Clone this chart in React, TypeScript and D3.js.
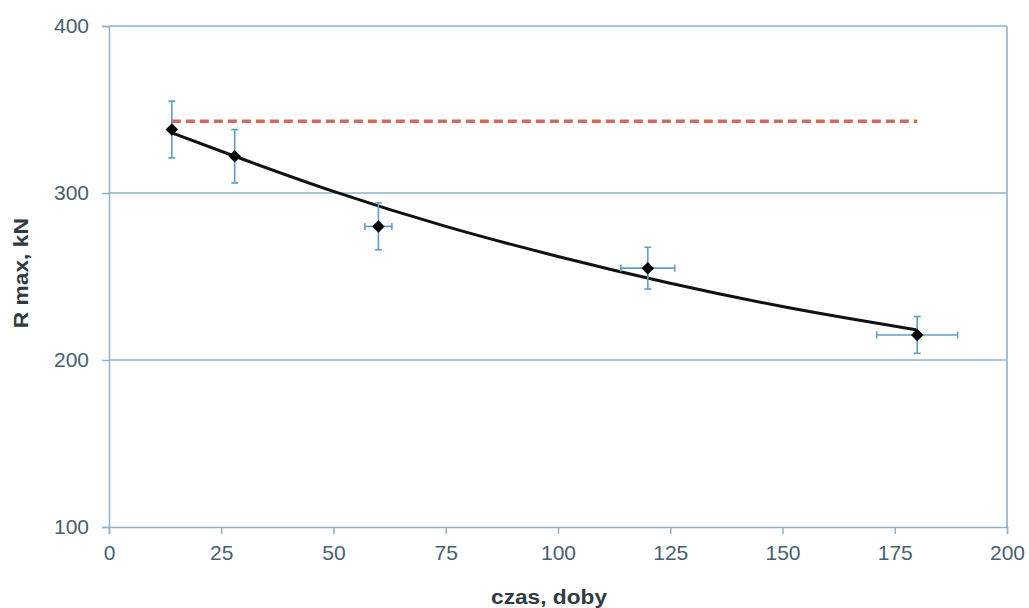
import React, { useEffect, useRef } from 'react'
import * as d3 from 'd3'

// measured points (time in days vs max load)
const days = [14, 28, 60, 120, 180]
const rmax = [338, 322, 280, 255, 215]
const rmaxErr = [17, 16, 14, 12.5, 11]
const daysErr = [0, 0, 3, 6, 9]

// trend curve
const fitDays = [14, 28, 50, 75, 100, 125, 150, 180]
const fitR = [336, 322, 301, 280, 262, 246, 232, 218]

// reference level (dashed)
const refDays = [14, 180]
const refR = [343, 343]

const xTicks = [0, 25, 50, 75, 100, 125, 150, 175, 200]
const yTicks = [100, 200, 300, 400]

const W = 1029
const H = 608
const margin = { top: 26, right: 22, bottom: 81, left: 109 }

const gridColor = '#8db4c9'
const errColor = '#5e9fc4'
const textColor = '#47606e'
const font = 'Liberation Sans, Arial, sans-serif'

export default function App() {
  const ref = useRef<SVGGElement>(null)

  useEffect(() => {
    const w = W - margin.left - margin.right
    const h = H - margin.top - margin.bottom
    const g = d3.select(ref.current)
    g.selectAll('*').remove()

    const x = d3.scaleLinear().domain([0, 200]).range([0, w])
    const y = d3.scaleLinear().domain([100, 400]).range([h, 0])

    // horizontal grid lines
    g.selectAll('.grid')
      .data(yTicks.slice(1))
      .enter()
      .append('line')
      .attr('x1', 0)
      .attr('x2', w)
      .attr('y1', d => y(d))
      .attr('y2', d => y(d))
      .attr('stroke', gridColor)
      .attr('stroke-width', 1.5)

    // right border
    g.append('line')
      .attr('x1', w).attr('x2', w)
      .attr('y1', 0).attr('y2', h)
      .attr('stroke', '#a9bfcc')
      .attr('stroke-width', 2)

    // y axis
    const yAxis = g.append('g')
      .call(d3.axisLeft(y).tickValues(yTicks).tickSize(7).tickPadding(13))
    // x axis
    const xAxis = g.append('g')
      .attr('transform', `translate(0,${h})`)
      .call(d3.axisBottom(x).tickValues(xTicks).tickSize(7).tickPadding(11))

    ;[yAxis, xAxis].forEach(a => {
      a.select('.domain').attr('stroke', gridColor).attr('stroke-width', 1.5)
      a.selectAll('.tick line').attr('stroke', gridColor).attr('stroke-width', 1.5)
      a.selectAll('.tick text')
        .attr('fill', textColor)
        .attr('font-family', font)
        .attr('font-size', 21)
    })

    // dashed reference line
    const refLine = d3.line<number>()
      .x((d, i) => x(refDays[i]))
      .y(d => y(d))
    g.append('path')
      .datum(refR)
      .attr('d', refLine)
      .attr('fill', 'none')
      .attr('stroke', '#cf6a5e')
      .attr('stroke-width', 3.5)
      .attr('stroke-dasharray', '9,5')

    // trend curve
    const fitLine = d3.line<number>()
      .x((d, i) => x(fitDays[i]))
      .y(d => y(d))
      .curve(d3.curveMonotoneX)
    g.append('path')
      .datum(fitR)
      .attr('d', fitLine)
      .attr('fill', 'none')
      .attr('stroke', '#111')
      .attr('stroke-width', 3)

    // error bars
    const cap = 3.5
    const eb = g.selectAll('.err')
      .data(days)
      .enter()
      .append('g')
      .attr('stroke', errColor)
      .attr('stroke-width', 1.6)
    eb.append('line')
      .attr('x1', d => x(d)).attr('x2', d => x(d))
      .attr('y1', (d, i) => y(rmax[i] + rmaxErr[i]))
      .attr('y2', (d, i) => y(rmax[i] - rmaxErr[i]))
    eb.append('line')
      .attr('x1', d => x(d) - cap).attr('x2', d => x(d) + cap)
      .attr('y1', (d, i) => y(rmax[i] + rmaxErr[i]))
      .attr('y2', (d, i) => y(rmax[i] + rmaxErr[i]))
    eb.append('line')
      .attr('x1', d => x(d) - cap).attr('x2', d => x(d) + cap)
      .attr('y1', (d, i) => y(rmax[i] - rmaxErr[i]))
      .attr('y2', (d, i) => y(rmax[i] - rmaxErr[i]))
    eb.filter((d, i) => daysErr[i] > 0).each(function (d) {
      const k = days.indexOf(d)
      const s = d3.select(this)
      const yy = y(rmax[k])
      s.append('line')
        .attr('x1', x(d - daysErr[k])).attr('x2', x(d + daysErr[k]))
        .attr('y1', yy).attr('y2', yy)
      s.append('line')
        .attr('x1', x(d - daysErr[k])).attr('x2', x(d - daysErr[k]))
        .attr('y1', yy - cap).attr('y2', yy + cap)
      s.append('line')
        .attr('x1', x(d + daysErr[k])).attr('x2', x(d + daysErr[k]))
        .attr('y1', yy - cap).attr('y2', yy + cap)
    })

    // diamond markers (square turned 45deg)
    g.selectAll('.pt')
      .data(days)
      .enter()
      .append('path')
      .attr('d', d3.symbol().type(d3.symbolSquare).size(78))
      .attr('transform', (d, i) => `translate(${x(d)},${y(rmax[i])}) rotate(45)`)
      .attr('fill', '#000')

    // axis titles
    g.append('text')
      .attr('x', x(98))
      .attr('y', h + 77)
      .attr('text-anchor', 'middle')
      .attr('font-family', font)
      .attr('font-weight', 'bold')
      .attr('font-size', 21)
      .attr('fill', '#2f3b42')
      .attr('textLength', 116)
      .attr('lengthAdjust', 'spacingAndGlyphs')
      .text('czas, doby')

    g.append('text')
      .attr('transform', `translate(${-margin.left + 28},${y(252)}) rotate(-90)`)
      .attr('text-anchor', 'middle')
      .attr('font-family', font)
      .attr('font-weight', 'bold')
      .attr('font-size', 21)
      .attr('fill', '#2f3b42')
      .attr('textLength', 110)
      .attr('lengthAdjust', 'spacingAndGlyphs')
      .text('R max, kN')
  }, [])

  return (
    <svg width={W} height={H} style={{ position: 'absolute', left: 0, top: 0, background: '#fff' }}>
      <g ref={ref} transform={`translate(${margin.left},${margin.top})`} />
    </svg>
  )
}
